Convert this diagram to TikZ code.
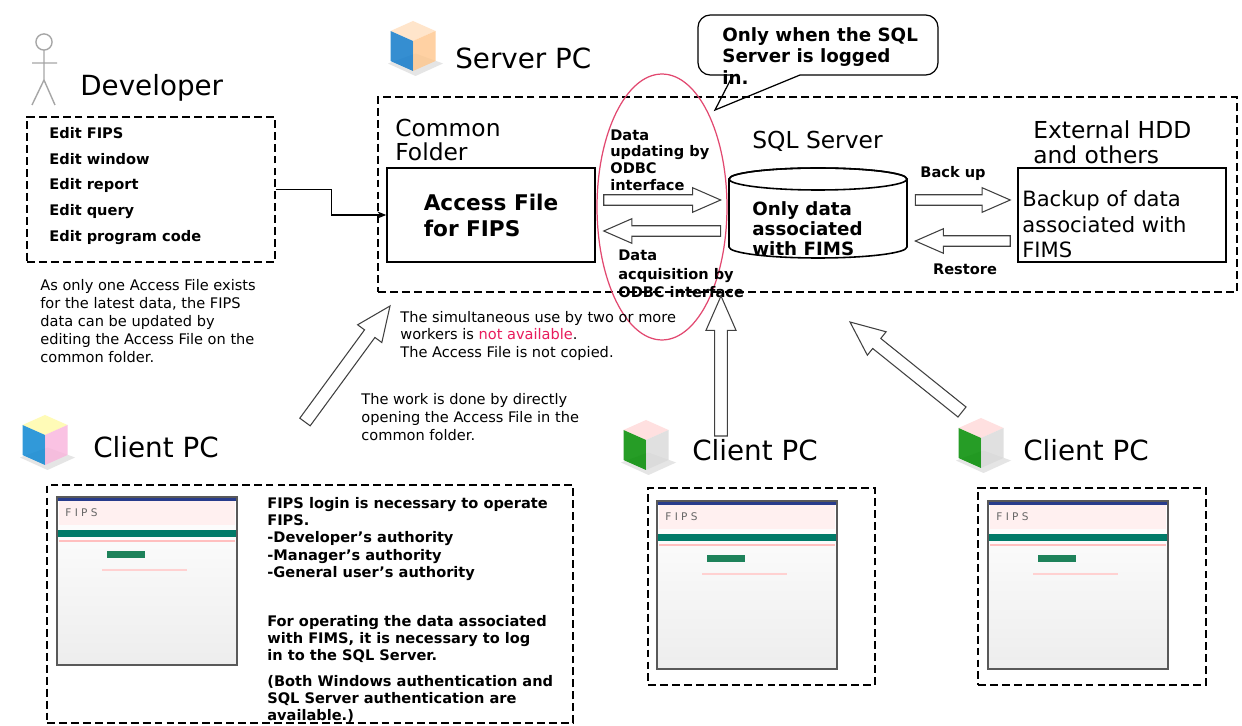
\documentclass[tikz,border=0pt]{standalone}
\usepackage{fontspec}
\setmainfont{DejaVu Sans}
\usetikzlibrary{arrows.meta,calc,positioning,shapes.geometric}

\definecolor{alertred}{RGB}{232,28,92}
\definecolor{ringred}{RGB}{226,72,112}
\definecolor{tealband}{RGB}{0,122,104}
\definecolor{navybar}{RGB}{40,60,140}
\definecolor{btngreen}{RGB}{30,130,90}

\tikzset{
  bigtitle/.style={anchor=west, inner sep=0, font=\fontsize{15.8}{19}\selectfont},
  subtitle/.style={anchor=west, inner sep=0, align=left, font=\fontsize{13.3}{14}\selectfont},
  note/.style={anchor=west, inner sep=0, align=left, font=\fontsize{8.3}{10}\selectfont},
  boldnote/.style={anchor=west, inner sep=0, align=left, font=\bfseries\fontsize{8.3}{9.7}\selectfont},
  dashframe/.style 2 args={draw, dash pattern=on 4.5pt off 2.3pt, line width=0.7pt,
    inner sep=0, minimum width=#1, minimum height=#2},
  filebox/.style 2 args={draw, line width=0.9pt, inner sep=0, minimum width=#1, minimum height=#2},
  blockarrow/.style={draw=black!75, fill=white, line width=0.6pt, line join=miter},
}

% hollow block arrow from #2 to #3, #1 scales shaft and head
\newcommand{\hollowarrow}[3][1]{%
  \pgfmathsetlengthmacro\arrshaft{3pt*#1}%
  \pgfmathsetlengthmacro\arrhead{7pt*#1}%
  \pgfmathsetlengthmacro\arrlen{16pt*#1}%
  \coordinate (ha-base) at ($(#3)!\arrlen!(#2)$);
  \draw[blockarrow]
    ($(#2)!\arrshaft!90:(#3)$) -- ($(ha-base)!\arrshaft!-90:(#2)$)
    -- ($(ha-base)!\arrhead!-90:(#2)$) -- (#3)
    -- ($(ha-base)!\arrhead!90:(#2)$) -- ($(ha-base)!\arrshaft!90:(#2)$)
    -- ($(#2)!\arrshaft!-90:(#3)$) -- cycle;
}

% small 3d computer icon: name, centre, left face, right face, top face
\newcommand{\pcicon}[5]{%
  \begin{scope}[shift={#2}, scale=1.25]
    \fill[gray!20] (-20,14) -- (2,24) -- (24,14) -- (2,6) -- cycle;
    \fill[#5, opacity=0.8] (-18,-12) -- (0,-20) -- (18,-12) -- (0,-4) -- cycle;
    \fill[#3, opacity=0.85] (-18,-12) -- (0,-4) -- (0,20) -- (-18,12) -- cycle;
    \fill[#4, opacity=0.8] (0,-4) -- (18,-12) -- (18,12) -- (0,20) -- cycle;
    \coordinate (#1) at (0,0);
  \end{scope}
}

% FIPS login window: name, top left corner
\newcommand{\fipswindow}[2]{%
  \begin{scope}[shift={#2}]
    \fill[top color=white, bottom color=gray!14] (0,0) rectangle (180,168);
    \fill[navybar] (0,0) rectangle (180,4);
    \fill[red!6] (2,4) rectangle (178,28);
    \node[anchor=west, inner sep=0, text=black!60, font=\fontsize{6}{6}\selectfont] (#1) at (8,16) {F I P S};
    \fill[tealband] (0,33) rectangle (180,40);
    \fill[red!25] (2,43) rectangle (178,45);
    \fill[btngreen] (50,54) rectangle (88,61);
    \fill[red!18] (45,72) rectangle (130,74);
    \draw[black!65, line width=0.8pt] (0,0) rectangle (180,168);
  \end{scope}
}

\begin{document}
\begin{tikzpicture}[x=0.02cm, y=-0.02cm]
  \useasboundingbox[fill=white] (0,0) rectangle (1242,726);

  % Developer
  \draw[gray!70, line width=0.8pt] (44,42) circle[radius=4.6pt];
  \draw[gray!70, line width=0.8pt] (44,50) -- (44,80) (32,63) -- (57,63)
    (32,105) -- (44,80) -- (55,105);
  \node[bigtitle] (devtitle) at (80,88) {Developer};
  \node[dashframe={4.96cm}{2.9cm}] (devframe) at (151,189.5) {};
  \foreach \entry [count=\i] in {Edit FIPS, Edit window, Edit report, Edit query, Edit program code}
    \node[boldnote] (edit\i) at (49,{106.8+26.2*\i}) {\entry};
  \node[note, font=\fontsize{8.3}{10.2}\selectfont] (devnote) at (40,321)
    {As only one Access File exists\\for the latest data, the FIPS\\data can be updated by\\editing the Access File on the\\common folder.};

  % Server PC
  \pcicon{servericon}{(413,46)}{cyan!60!blue}{orange!45}{orange!25}
  \node[bigtitle] (servertitle) at (455,58) {Server PC};
  \node[dashframe={17.18cm}{3.9cm}] (serverframe) at (807.5,194.5) {};
  \node[subtitle] (commontitle) at (395,140) {Common\\Folder};
  \node[filebox={4.16cm}{1.88cm}, align=left, font=\bfseries\fontsize{12.3}{14.8}\selectfont]
    (access) at (491,215) {Access File\\for FIPS};
  \draw[-{Stealth[length=5pt,width=4pt]}, line width=0.7pt]
    (devframe.east) -- ++(56,0) |- (access.west);

  % SQL Server database
  \node[subtitle] (sqltitle) at (752,141) {SQL Server};
  \draw[line width=0.9pt, fill=white] (729,179) -- (729,247)
    arc[start angle=180, end angle=360, x radius=1.78cm, y radius=0.22cm]
    -- (907,179) arc[start angle=0, end angle=180, x radius=1.78cm, y radius=0.22cm];
  \draw[line width=0.9pt] (818,179) ellipse[x radius=1.78cm, y radius=0.22cm];
  \node[inner sep=0, minimum width=3.56cm, minimum height=1.5cm] (sqldb) at (818,215) {};
  \node[anchor=west, inner sep=0, align=left, font=\bfseries\fontsize{10.4}{11.4}\selectfont]
    (sqltext) at (752,229) {Only data\\associated\\with FIMS};

  % ODBC link between Access file and database
  \node[draw=ringred, line width=0.7pt, ellipse, inner sep=0, minimum width=2.6cm,
    minimum height=5.32cm] (odbcring) at (662,207) {};
  \hollowarrow{$(access.east)+(8,-15)$}{$(sqldb.west)+(-8,-15)$}
  \hollowarrow{$(sqldb.west)+(-8,16)$}{$(access.east)+(8,16)$}
  \node[boldnote, font=\bfseries\fontsize{8.3}{9.5}\selectfont] (updlabel) at (610,160)
    {Data\\updating by\\ODBC\\interface};
  \node[boldnote, font=\bfseries\fontsize{8.3}{10.5}\selectfont] (acqlabel) at (618,274)
    {Data\\acquisition by\\ODBC interface};

  % backup to external disk
  \node[subtitle] (hddtitle) at (1033,142.5) {External HDD\\and others};
  \node[filebox={4.16cm}{1.88cm}] (backupbox) at (1122,215) {};
  \node[anchor=west, inner sep=0, align=left, font=\fontsize{12}{14.5}\selectfont]
    (backuptext) at (1022,224.5) {Backup of data\\associated with\\FIMS};
  \hollowarrow{$(sqldb.east)+(8,-15)$}{$(backupbox.west)+(-7,-15)$}
  \hollowarrow{$(backupbox.west)+(-7,26)$}{$(sqldb.east)+(8,26)$}
  \node[boldnote, anchor=center] (backuplabel) at (953,173) {Back up};
  \node[boldnote, anchor=center] (restorelabel) at (965,269) {Restore};

  % speech balloon
  \draw[line width=0.7pt, fill=white, rounded corners=7pt]
    (733,75) -- (698,75) -- (698,15) -- (938,15) -- (938,75) -- (800,75);
  \draw[line width=0.7pt] (733,75) -- (715,110) -- (800,75);
  \node[boldnote, font=\bfseries\fontsize{10.4}{12}\selectfont] (balloontext) at (722,56)
    {Only when the SQL\\Server is logged\\in.};

  % notes under the server
  \node[note] (sharenote) at (400,335.7)
    {The simultaneous use by two or more\\workers is \textcolor{alertred}{not available}.\\The Access File is not copied.};
  \node[note] (worknote) at (361,417)
    {The work is done by directly\\opening the Access File in the\\common folder.};

  % client arrows
  \coordinate (c1tail) at (305,422);
  \coordinate (c1tip) at (390,306);
  \coordinate (c2tail) at (721,436);
  \coordinate (c2tip) at (721,296);
  \coordinate (c3tail) at (962,412);
  \coordinate (c3tip) at (850,322);
  \hollowarrow[1.22]{c1tail}{c1tip}
  \hollowarrow[1.22]{c2tail}{c2tip}
  \hollowarrow[1.22]{c3tail}{c3tip}

  % Client PC 1
  \pcicon{client1icon}{(45,440)}{cyan!70!blue}{magenta!30}{yellow!35}
  \node[bigtitle] (client1title) at (93,447) {Client PC};
  \node[dashframe={10.52cm}{4.76cm}] (client1frame) at (310,604) {};
  \fipswindow{client1win}{(57,497)}
  \node[boldnote] (loginnote) at (267,539)
    {FIPS login is necessary to operate\\FIPS.\\-Developer’s authority\\-Manager’s authority\\-General user’s authority};
  \node[boldnote] (sqlnote) at (267,639)
    {For operating the data associated\\with FIMS, it is necessary to log\\in to the SQL Server.};
  \node[boldnote] (authnote) at (267,699)
    {(Both Windows authentication and\\SQL Server authentication are\\available.)};

  % Client PC 2
  \pcicon{client2icon}{(646,445)}{green!55!black}{gray!30}{red!15}
  \node[bigtitle] (client2title) at (692,450) {Client PC};
  \node[dashframe={4.54cm}{3.94cm}] (client2frame) at (761.5,586.5) {};
  \fipswindow{client2win}{(657,501)}

  % Client PC 3
  \pcicon{client3icon}{(981,443)}{green!55!black}{gray!30}{red!15}
  \node[bigtitle] (client3title) at (1023,450) {Client PC};
  \node[dashframe={4.56cm}{3.94cm}] (client3frame) at (1092,586.5) {};
  \fipswindow{client3win}{(988,501)}
\end{tikzpicture}
\end{document}
